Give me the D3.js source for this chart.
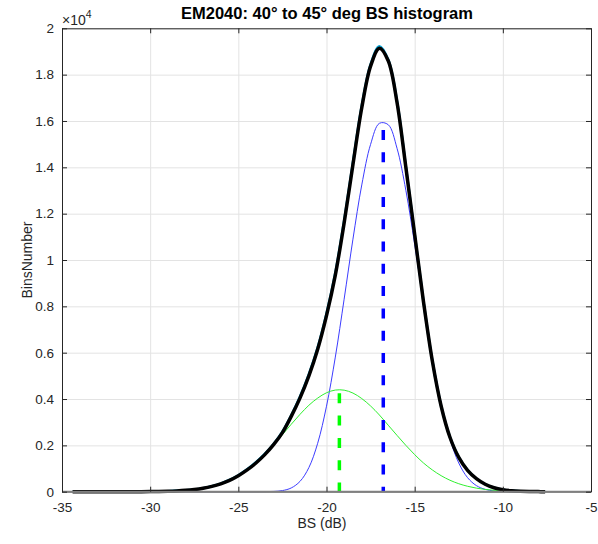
<!DOCTYPE html>
<html>
<head>
<meta charset="utf-8">
<script src="https://cdn.jsdelivr.net/npm/d3@7"></script>
<style>
  body { margin: 0; background: #fff; }
  svg { display: block; font-family: "Liberation Sans", Arial, sans-serif; }
</style>
</head>
<body>
<svg id="chart" width="598" height="544"></svg>
<script>
// BS bin centres (dB)
const bsX = [-34.4, -34, -33.5, -33, -32.5, -32, -31.5, -31, -30.5, -30, -29.5, -29, -28.5, -28,
  -27.5, -27, -26.5, -26, -25.5, -25, -24.5, -24, -23.5, -23, -22.5, -22, -21.5, -21, -20.5, -20,
  -19.5, -19, -18.5, -18, -17.5, -17, -16.5, -16, -15.5, -15, -14.5, -14, -13.5, -13, -12.5, -12,
  -11.5, -11, -10.5, -10, -9.5, -9, -8.5, -8, -7.6];

// histogram counts (cyan, mostly hidden under the total fit)
const binsCount = [0, 0, 0, 0, 0, 0, 1, 2, 3, 6, 12, 21, 37, 60,
  98, 155, 237, 350, 505, 710, 965, 1270, 1630, 2060, 2590, 3300, 4110, 5070, 6230, 7690,
  9450, 11700, 14220, 16660, 18440, 19230, 18650, 16850, 14030, 11120, 8210, 5660, 3710, 2360, 1490, 930,
  565, 322, 172, 86, 41, 18, 8, 4, 2];

// total fit (black)
const fitTotal = [0, 0, 0, 0, 0, 0, 1, 2, 3, 6, 11, 20, 35, 58,
  95, 150, 230, 340, 490, 690, 940, 1240, 1600, 2030, 2550, 3250, 4050, 5000, 6150, 7600,
  9350, 11600, 14120, 16570, 18370, 19140, 18600, 16800, 14000, 11100, 8200, 5650, 3700, 2350, 1480, 920,
  560, 320, 170, 85, 40, 18, 8, 4, 2];

// first mode (blue)
const fitMode1 = [0, 0, 0, 0, 0, 0, 0, 0, 0, 0, 0, 0, 0, 0,
  0, 0, 0, 0, 0, 0, 0, 0, 2, 12, 48, 162, 447, 1040, 2090, 3690,
  5810, 8310, 10900, 13240, 14990, 15900, 15840, 14820, 13010, 10680, 8170, 5800, 3800, 2280, 1240, 606,
  263, 101, 33, 9, 2, 0, 0, 0, 0];

// second mode (green)
const fitMode2 = [0, 0, 0, 0, 0, 1, 1, 2, 4, 7, 13, 23, 39, 64,
  102, 159, 241, 355, 510, 710, 963, 1270, 1630, 2030, 2460, 2910, 3340, 3730, 4040, 4270,
  4387, 4382, 4257, 4020, 3700, 3310, 2870, 2430, 2000, 1600, 1240, 940, 692, 495, 345, 234,
  154, 98, 61, 37, 22, 12, 7, 4, 2];

// mode means and marker heights
const modeMeans = [-16.78, -19.27];
const modeMarkTop = [15610, 4247];
const modeColors = ["#0000ff", "#00ff00"];

const xTicks = [-35, -30, -25, -20, -15, -10, -5];
const yTicks = [0, 2000, 4000, 6000, 8000, 10000, 12000, 14000, 16000, 18000, 20000];

const svg = d3.select("#chart");
const plotL = 62, plotR = 591, plotT = 28.3, plotB = 491.7;

const x = d3.scaleLinear().domain([-35, -5]).range([plotL, plotR]);
const y = d3.scaleLinear().domain([0, 20000]).range([plotB, plotT]);

// grid
svg.append("g").attr("transform", `translate(0,${plotB})`)
  .call(d3.axisBottom(x).tickValues(xTicks).tickSize(-(plotB - plotT)).tickFormat(""))
  .call(g => g.select(".domain").remove())
  .call(g => g.selectAll("line").attr("stroke", "#e3e3e3"));
svg.append("g").attr("transform", `translate(${plotL},0)`)
  .call(d3.axisLeft(y).tickValues(yTicks).tickSize(-(plotR - plotL)).tickFormat(""))
  .call(g => g.select(".domain").remove())
  .call(g => g.selectAll("line").attr("stroke", "#e3e3e3"));

// curves
const line = d3.line().x((d, i) => x(bsX[i])).y(d => y(d)).curve(d3.curveCatmullRom.alpha(0.5));
svg.append("path").datum(binsCount).attr("d", line)
  .attr("fill", "none").attr("stroke", "#0aa6d8").attr("stroke-width", 2.5);
svg.append("path").datum(fitMode1).attr("d", line)
  .attr("fill", "none").attr("stroke", "#3c3cff").attr("stroke-width", 1);
svg.append("path").datum(fitMode2).attr("d", line)
  .attr("fill", "none").attr("stroke", "#30f030").attr("stroke-width", 1);
svg.append("path").datum(fitTotal).attr("d", line)
  .attr("fill", "none").attr("stroke", "#000").attr("stroke-width", 3.5)
  .attr("stroke-linejoin", "round");

// mean markers
modeMeans.forEach((m, i) => {
  svg.append("line")
    .attr("x1", x(m)).attr("x2", x(m))
    .attr("y1", y(modeMarkTop[i])).attr("y2", y(0))
    .attr("stroke", modeColors[i]).attr("stroke-width", 3.5)
    .attr("stroke-dasharray", "10,12.3");
});

// zero line
svg.append("line").attr("x1", plotL).attr("x2", plotR).attr("y1", plotB).attr("y2", plotB)
  .attr("stroke", "#808080").attr("stroke-width", 2);

// axes
const fmtY = d => d3.format("~g")(d / 1e4);
const styleAxis = g => {
  g.select(".domain").attr("stroke", "#262626");
  g.selectAll(".tick line").attr("stroke", "#262626");
  g.selectAll("text").attr("fill", "#262626").attr("font-size", 13.5)
    .attr("font-family", "Liberation Sans, Arial, sans-serif");
};
svg.append("g").attr("transform", `translate(0,${plotB})`)
  .call(d3.axisBottom(x).tickValues(xTicks).tickSize(-5).tickPadding(11).tickSizeOuter(0)
    .tickFormat(d => String(d)))
  .call(styleAxis)
  .call(g => g.select(".domain").attr("stroke", "#808080"));
svg.append("g").attr("transform", `translate(0,${plotT})`)
  .call(d3.axisTop(x).tickValues(xTicks).tickSize(-5).tickFormat("").tickSizeOuter(0))
  .call(styleAxis);
svg.append("g").attr("transform", `translate(${plotL},0)`)
  .call(d3.axisLeft(y).tickValues(yTicks).tickSize(-5).tickPadding(8).tickFormat(fmtY).tickSizeOuter(0))
  .call(styleAxis);
svg.append("g").attr("transform", `translate(${plotR},0)`)
  .call(d3.axisRight(y).tickValues(yTicks).tickSize(-5).tickFormat("").tickSizeOuter(0))
  .call(styleAxis);

// exponent label
const expo = svg.append("text").attr("x", 62).attr("y", 25)
  .attr("fill", "#262626").attr("font-size", 14);
expo.append("tspan").text("\u00d710");
expo.append("tspan").attr("dy", -7).attr("font-size", 10.5).text("4");

// title and labels
svg.append("text").attr("x", 327).attr("y", 19).attr("text-anchor", "middle")
  .attr("font-weight", "bold").attr("font-size", 16.5).attr("fill", "#000")
  .text("EM2040: 40\u00b0 to 45\u00b0 deg BS histogram");
svg.append("text").attr("x", 322).attr("y", 528).attr("text-anchor", "middle")
  .attr("font-size", 14).attr("fill", "#262626").text("BS (dB)");
svg.append("text").attr("transform", "translate(32,260) rotate(-90)").attr("text-anchor", "middle")
  .attr("font-size", 14).attr("fill", "#262626").text("BinsNumber");
</script>
</body>
</html>
